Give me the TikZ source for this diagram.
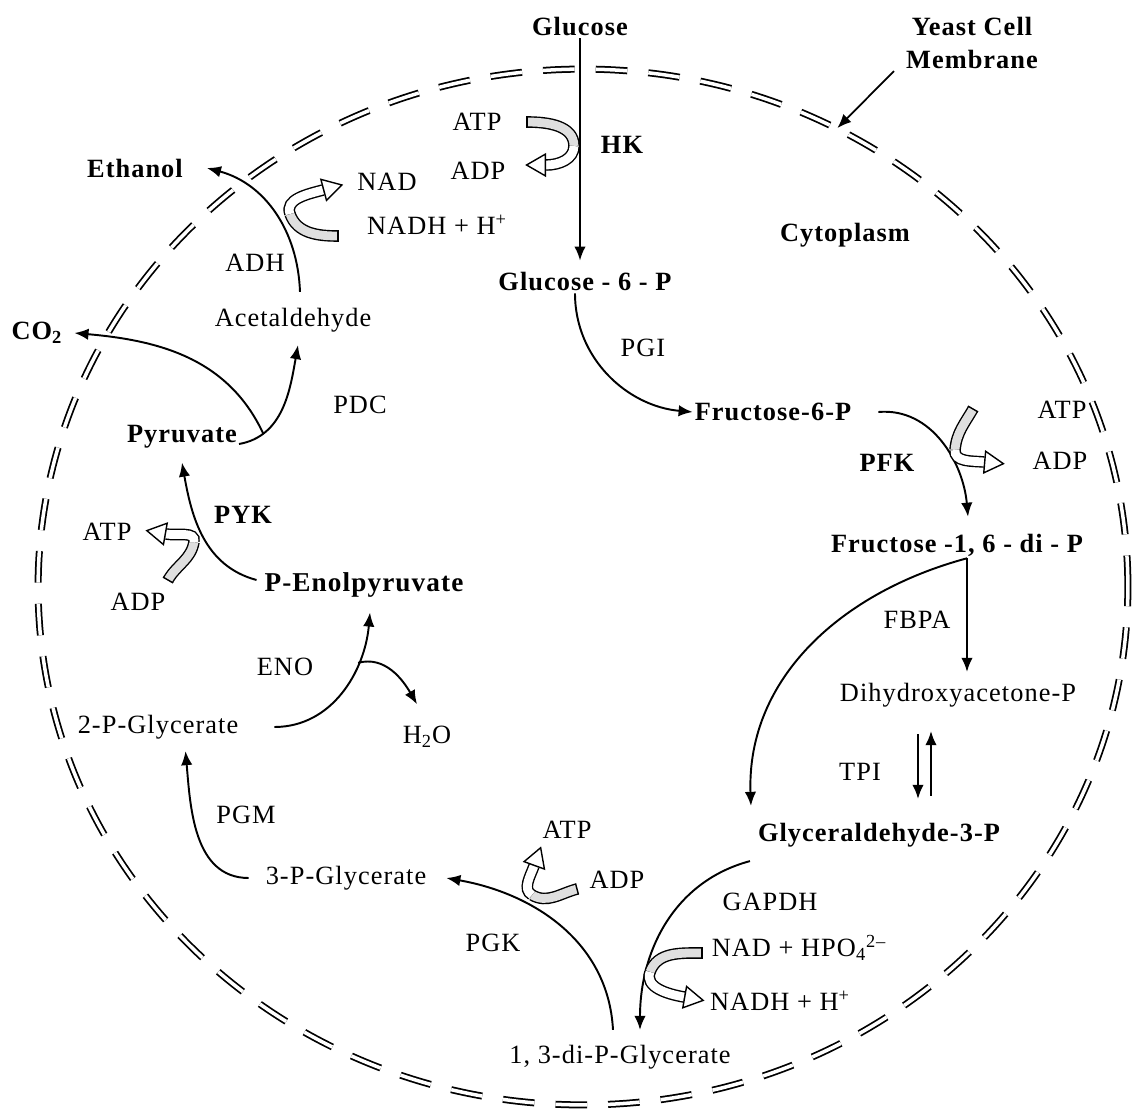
\documentclass[tikz,border=0pt]{standalone}
\usepackage{fontspec}
\setmainfont{Liberation Serif}[LetterSpace=4.0]
\usetikzlibrary{arrows.meta, shapes.geometric}

\begin{document}
\begin{tikzpicture}[
        x = 0.02cm, y = -0.02cm,
        >= {Latex[length = 8pt, width = 6.5pt]},
        mol/.style = {font = \bfseries\fontsize{15}{18}\selectfont, inner sep = 1pt},
        txt/.style = {font = \fontsize{15}{18}\selectfont, inner sep = 1pt},
        rxn/.style = {->, line width = 1.1pt},
        membrane/.style = {ellipse, minimum width = 21.8cm, minimum height = 20.72cm, draw,
            line width = 1pt, double, double distance = 2pt, dash pattern = on 18pt off 12pt},
        bandin/.style = {line width = 6.6pt, draw = black, postaction = {draw = gray!25, line width = 5pt}},
        bandout/.style = {line width = 6.6pt, draw = black, postaction = {draw = white, line width = 5pt}},
        bandcap/.style = {pos = 0, sloped, allow upside down, draw, line width = 0.8pt,
            minimum width = 0pt, minimum height = 6.6pt, inner sep = 0pt, outer sep = 0pt},
        hollowtip/.style = {pos = 1, sloped, allow upside down, anchor = west, regular polygon,
            regular polygon sides = 3, shape border rotate = -90, draw, fill = white,
            line width = 0.8pt, minimum size = 0.5cm, inner sep = 0pt}
    ]
    \useasboundingbox (0,0) rectangle (1144,1119);

    % cell membrane
    \node[membrane] (cell) at (583,587) {};

    % molecules
    \node[mol] (glc) at (580,27) {Glucose};
    \node[mol, align = center, font = \bfseries\fontsize{15}{19}\selectfont] (yeast) at (972,43) {Yeast Cell\\Membrane};
    \node[mol] (g6p) at (585,282) {Glucose - 6 - P};
    \node[mol] (cyto) at (845,235) {Cytoplasm};
    \node[mol] (etoh) at (135,168) {Ethanol};
    \node[txt] (acet) at (293,320) {Acetaldehyde};
    \node[mol] (co2) at (37,333) {CO\textsubscript{2}};
    \node[mol] (pyr) at (182,437) {Pyruvate};
    \node[mol] (f6p) at (773,412) {Fructose-6-P};
    \node[mol] (f16p) at (957,545) {Fructose -1, 6 - di - P};
    \node[txt] (dhap) at (958,695) {Dihydroxyacetone-P};
    \node[mol] (gap) at (879,835) {Glyceraldehyde-3-P};
    \node[txt] (bpg) at (620,1057) {1, 3-di-P-Glycerate};
    \node[txt] (pg3) at (346,878) {3-P-Glycerate};
    \node[txt] (pg2) at (158,727) {2-P-Glycerate};
    \node[mol, font = \bfseries\fontsize{15.5}{18}\selectfont] (pep) at (364,585) {P-Enolpyruvate};
    \node[txt] (h2o) at (427,737) {H\textsubscript{2}O};

    % enzymes
    \node[mol] (hk) at (622,145) {HK};
    \node[txt] (adh) at (255,263) {ADH};
    \node[txt] (pdc) at (360,405) {PDC};
    \node[txt] (pgi) at (643,348) {PGI};
    \node[mol] (pfk) at (887,463) {PFK};
    \node[txt] (fbpa) at (917,620) {FBPA};
    \node[txt] (tpi) at (860,772) {TPI};
    \node[txt] (gapdh) at (770,902) {GAPDH};
    \node[txt] (pgk) at (493,943) {PGK};
    \node[txt] (pgm) at (246,815) {PGM};
    \node[txt] (eno) at (285,667) {ENO};
    \node[mol] (pyk) at (243,515) {PYK};

    % cofactors
    \node[txt] (atpA) at (477,122) {ATP};
    \node[txt] (adpA) at (478,171) {ADP};
    \node[txt] (nadB) at (387,182) {NAD};
    \node[txt] (nadhB) at (437,225) {NADH + H\textsuperscript{+}};
    \node[txt] (atpC) at (1062,410) {ATP};
    \node[txt] (adpC) at (1060,461) {ADP};
    \node[txt] (atpD) at (107,532) {ATP};
    \node[txt] (adpD) at (138,602) {ADP};
    \node[txt] (atpE) at (567,830) {ATP};
    \node[txt] (adpE) at (617,880) {ADP};
    \node[txt] (nadF) at (799,948) {NAD + HPO\textsubscript{4}\textsuperscript{2--}};
    \node[txt] (nadhF) at (780,1001) {NADH + H\textsuperscript{+}};

    % reactions
    \path[rxn]
        (glc.south) edge [shorten >= 0.2cm] (glc.south |- g6p.north)
        ([xshift = -0.2cm]g6p.south) edge [out = -90, in = 175] (f6p.west)
        ([xshift = 0.5cm]f6p.east) edge [out = 5, in = 95] ([xshift = 0.22cm, yshift = 0.3cm]f16p.north)
        ([xshift = -0.12cm, yshift = -0.24cm]gap.south west) edge [out = 195, in = 90] ([xshift = 0.4cm, yshift = 0.26cm]bpg.north)
        ([xshift = -0.14cm, yshift = 0.26cm]bpg.north) edge [out = 93, in = -10] ([xshift = 0.36cm]pg3.east)
        ([xshift = -0.3cm]pg3.west) edge [out = 180, in = -85] ([xshift = 0.55cm, yshift = -0.2cm]pg2.south)
        ([xshift = -0.12cm, yshift = 0.1cm]pep.west) edge [out = 165, in = -80] ([yshift = -0.24cm]pyr.south)
        ([xshift = 0.14cm, yshift = 0.28cm]acet.north) edge [out = 92, in = -15] ([xshift = 0.44cm]etoh.east);

    \coordinate (fbpaS) at ([xshift = 0.2cm]f16p.south);
    \draw[rxn, shorten >= 0.18cm] (fbpaS) -- (fbpaS |- dhap.north);
    \draw[rxn] (fbpaS) to[out = 195, in = 92] ([xshift = -0.1cm, yshift = 0.3cm]gap.north west);
    \draw[rxn, shorten <= 0.5cm, shorten >= 0.44cm] ([xshift = -0.8cm]dhap.south) -- ([xshift = -0.8cm]dhap.south |- gap.north);
    \draw[rxn, shorten <= 0.5cm, shorten >= 0.44cm] ([xshift = -0.54cm]dhap.south |- gap.north) -- ([xshift = -0.54cm]dhap.south);

    \draw[rxn] ([xshift = 0.68cm]pg2.east) to[out = 0, in = -95] coordinate[pos = 0.7] (enoB) ([xshift = 0.12cm, yshift = -0.26cm]pep.south);
    \draw[rxn] (enoB) to[out = 15, in = 120] ([xshift = -0.2cm, yshift = 0.4cm]h2o.north);

    \draw[rxn] ([yshift = -0.14cm]pyr.east) to[out = 10, in = -100] coordinate[pos = 0.22] (pdcB) ([xshift = 0.1cm, yshift = -0.22cm]acet.south);
    \draw[rxn] (pdcB) to[out = 115, in = -5] ([xshift = 0.2cm]co2.east);

    \draw[->, line width = 1pt] ([xshift = -0.2cm]yeast.south west) -- (cell.61);

    % cofactor bands
    \coordinate (hkS) at (527,122);
    \coordinate (hkT) at (574,146);
    \coordinate (hkE) at (546,165);
    \draw[bandin] (hkS) to[out = 0, in = 90] node[bandcap] {} (hkT);
    \draw[bandout] (hkT) to[out = -90, in = 0] node[hollowtip] {} (hkE);

    \coordinate (adhS) at (338,236);
    \coordinate (adhT) at (290,214);
    \coordinate (adhE) at (323,190);
    \draw[bandin] (adhS) to[out = 180, in = -70] node[bandcap] {} (adhT);
    \draw[bandout] (adhT) to[out = 110, in = 195] node[hollowtip] {} (adhE);

    \coordinate (pfkS) at (973,409);
    \coordinate (pfkT) at (955,450);
    \coordinate (pfkE) at (984,462);
    \draw[bandin] (pfkS) to[out = 240, in = 85] node[bandcap] {} (pfkT);
    \draw[bandout] (pfkT) to[out = -95, in = 175] node[hollowtip] {} (pfkE);

    \coordinate (pykS) at (168,580);
    \coordinate (pykT) at (194,542);
    \coordinate (pykE) at (166,534);
    \draw[bandin] (pykS) to[out = 60, in = -100] node[bandcap] {} (pykT);
    \draw[bandout] (pykT) to[out = 80, in = -10] node[hollowtip] {} (pykE);

    \coordinate (pgkS) at (577,889);
    \coordinate (pgkT) at (532,895);
    \coordinate (pgkE) at (534,866);
    \draw[bandin] (pgkS) to[out = 195, in = -30] node[bandcap] {} (pgkT);
    \draw[bandout] (pgkT) to[out = 150, in = -110] node[hollowtip] {} (pgkE);

    \coordinate (gapS) at (702,953);
    \coordinate (gapT) at (650,972);
    \coordinate (gapE) at (684,997);
    \draw[bandin] (gapS) to[out = 180, in = 70] node[bandcap] {} (gapT);
    \draw[bandout] (gapT) to[out = -110, in = 170] node[hollowtip] {} (gapE);
\end{tikzpicture}
\end{document}
